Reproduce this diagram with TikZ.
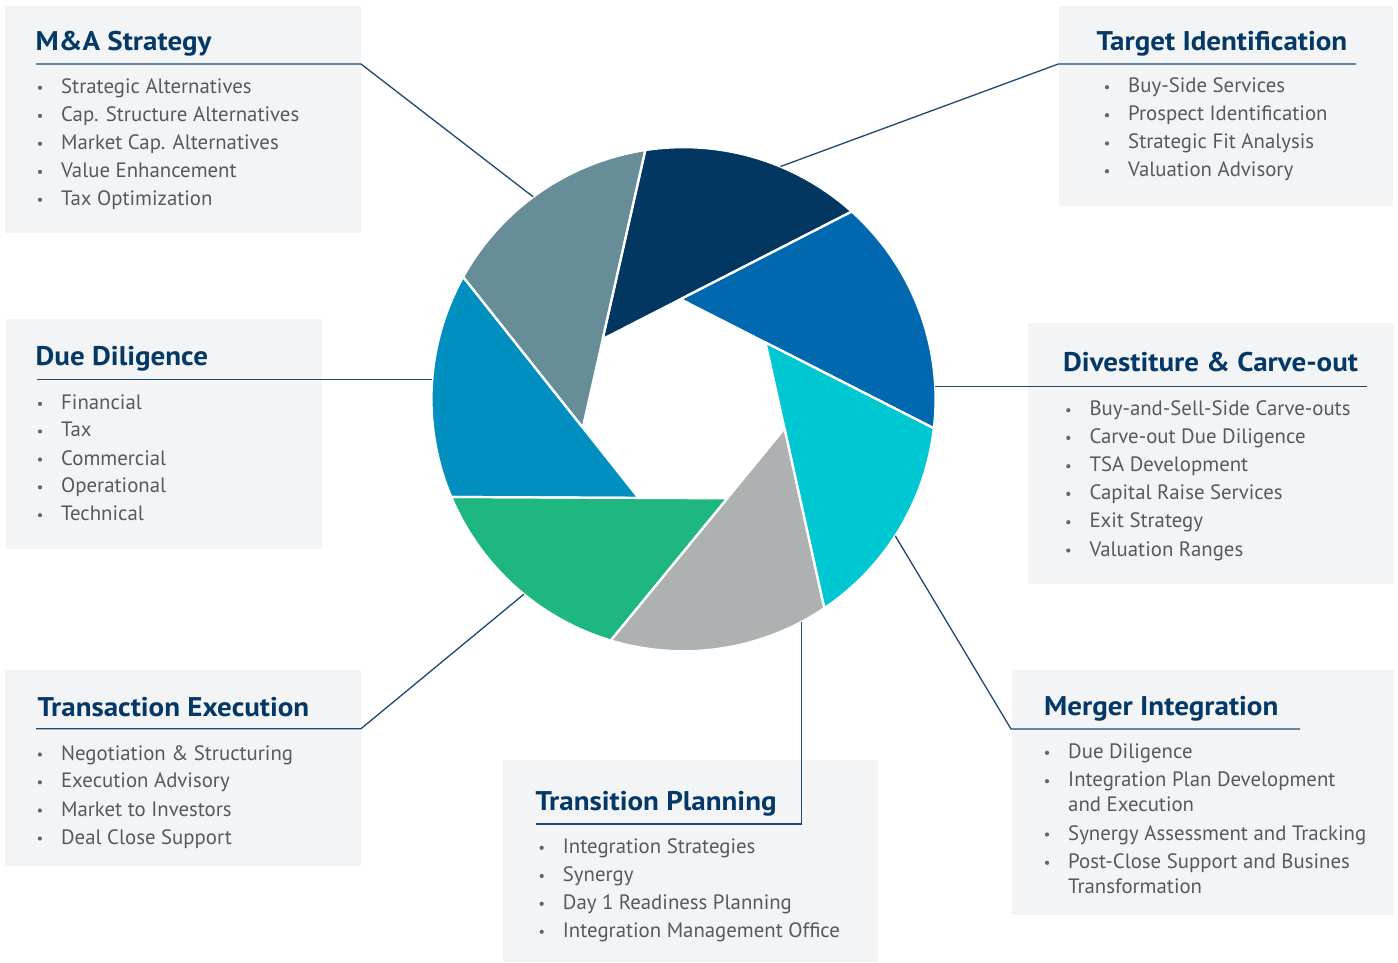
\documentclass[tikz,border=0pt]{standalone}
\usepackage{fontspec}
\setmainfont{PT Sans}
\newfontfamily\headfont{PT Sans}[FakeStretch=1.075]
\usetikzlibrary{calc}

\definecolor{panelbg}{RGB}{243,244,246}
\definecolor{headc}{RGB}{4,57,103}
\definecolor{bodyc}{RGB}{88,89,91}
\definecolor{dotc}{RGB}{100,101,103}
\definecolor{linec}{RGB}{28,72,115}
\definecolor{bladeNavy}{RGB}{2,55,98}
\definecolor{bladeBlue}{RGB}{0,104,175}
\definecolor{bladeCyan}{RGB}{0,200,211}
\definecolor{bladeGrey}{RGB}{174,177,177}
\definecolor{bladeGreen}{RGB}{30,183,128}
\definecolor{bladeSky}{RGB}{1,143,192}
\definecolor{bladeSlate}{RGB}{103,141,153}

% one bulleted line: node name, bullet x, baseline y, text
\newcommand{\listentry}[4]{%
  \fill[itemdot] (#2,#3-5.5) circle [radius=2.1];
  \node[itemtext] (#1) at (#2+21,#3) {#4};
}
% second line of a wrapped entry
\newcommand{\listcont}[4]{%
  \node[itemtext] (#1) at (#2+21,#3) {#4};
}

\begin{document}
\begin{tikzpicture}[x=1pt,y=-1pt,
  panel/.style={fill=panelbg},
  heading/.style={anchor=base west, inner sep=0pt, text=headc,
    font=\headfont\fontsize{27}{30}\selectfont\bfseries},
  itemtext/.style={anchor=base west, inner sep=0pt, text=bodyc,
    font=\fontsize{20.8}{24}\selectfont},
  itemdot/.style={fill=dotc},
  leader/.style={draw=linec, line width=1.3pt},
  bladeedge/.style={draw=white, line width=2.2pt, line join=round}
]
\useasboundingbox (0,0) rectangle (1398,962);

% ---------- panels ----------
\path[panel] (5,6) rectangle (361,233);
\path[panel] (1059,6) rectangle (1393,206);
\path[panel] (6,319) rectangle (322,549);
\path[panel] (1028,323) rectangle (1394,584);
\path[panel] (5,670) rectangle (361,866);
\path[panel] (1012,670) rectangle (1394,915);
\path[panel] (503,760) rectangle (878,962);

% ---------- aperture wheel ----------
\coordinate (C) at (683.5,399.2);
\foreach \i/\a in {0/-98.71,1/-48.14,2/6.62,3/56.03,4/106.78,5/157.18,6/209.03}
  \coordinate (p\i) at ($(C)+(\a:252)$);
% inner ends of the seven blade edges
\coordinate (t0) at (583.3,425);
\coordinate (t1) at (606,337.3);
\coordinate (t2) at (686.7,302.3);
\coordinate (t3) at (765.7,343.3);
\coordinate (t4) at (782.7,430.7);
\coordinate (t5) at (725,498.3);
\coordinate (t6) at (636.7,495.7);
% corners of the central opening
\coordinate (q0) at (intersection of p0--t0 and p1--t1);
\coordinate (q1) at (intersection of p1--t1 and p2--t2);
\coordinate (q2) at (intersection of p2--t2 and p3--t3);
\coordinate (q3) at (intersection of p3--t3 and p4--t4);
\coordinate (q4) at (intersection of p4--t4 and p5--t5);
\coordinate (q5) at (intersection of p5--t5 and p6--t6);
\coordinate (q6) at (intersection of p6--t6 and p0--t0);

\foreach \i/\a/\b/\c in {0/-98.71/-48.14/bladeNavy,1/-48.14/6.62/bladeBlue,
    2/6.62/56.03/bladeCyan,3/56.03/106.78/bladeGrey,4/106.78/157.18/bladeGreen,
    5/157.18/209.03/bladeSky,6/209.03/261.29/bladeSlate}
  \fill[fill=\c] (p\i) arc[start angle=\a, end angle=\b, radius=252] -- (q\i) -- cycle;
\foreach \i/\a/\b in {0/-98.71/-48.14,1/-48.14/6.62,2/6.62/56.03,3/56.03/106.78,
    4/106.78/157.18,5/157.18/209.03,6/209.03/261.29}
  \draw[bladeedge] (p\i) arc[start angle=\a, end angle=\b, radius=252] -- (q\i) -- cycle;

% ---------- leaders ----------
\coordinate (maL) at (36,64);    \coordinate (maK) at (361,64);
\coordinate (maE) at ($(C)+(-126.6:252)$);
\draw[leader] (maL) -- (maK) -- (maE);
\coordinate (tiL) at (1356,64);  \coordinate (tiK) at (1058.3,64);
\coordinate (tiE) at ($(C)+(-67.4:252)$);
\draw[leader] (tiL) -- (tiK) -- (tiE);
\coordinate (ddL) at (37,379.4); \coordinate (ddE) at (432.3,379.4);
\draw[leader] (ddL) -- (ddE);
\coordinate (dcL) at (1367,386.6); \coordinate (dcE) at (935.2,386.6);
\draw[leader] (dcL) -- (dcE);
\coordinate (teL) at (36,728.7); \coordinate (teK) at (361,728.7);
\coordinate (teE) at ($(C)+(129.3:252)$);
\draw[leader] (teL) -- (teK) -- (teE);
\coordinate (miL) at (1300,729); \coordinate (miK) at (1011,729);
\coordinate (miE) at ($(C)+(32.83:252)$);
\draw[leader] (miL) -- (miK) -- (miE);
\coordinate (tpL) at (536,824);  \coordinate (tpK) at (801.7,824);
\coordinate (tpE) at (801.7,621.8);
\draw[leader] (tpL) -- (tpK) -- (tpE);

% ---------- headings ----------
\node[heading] (maTitle) at (35.5,50) {M\&A Strategy};
\node[heading] (tiTitle) at (1096.5,50) {Target Identification};
\node[heading] (ddTitle) at (35.5,365) {Due Diligence};
\node[heading] (dcTitle) at (1063,371.7) {Divestiture \& Carve-out};
\node[heading] (teTitle) at (37.5,716) {Transaction Execution};
\node[heading] (miTitle) at (1044,715) {Merger Integration};
\node[heading] (tpTitle) at (535.5,810) {Transition Planning};

% ---------- lists ----------
\listentry{ma1}{40}{93.3}{Strategic Alternatives}
\listentry{ma2}{40}{121.3}{Cap. Structure Alternatives}
\listentry{ma3}{40}{149.3}{Market Cap. Alternatives}
\listentry{ma4}{40}{177.3}{Value Enhancement}
\listentry{ma5}{40}{205.3}{Tax Optimization}

\listentry{ti1}{1107}{92.7}{Buy-Side Services}
\listentry{ti2}{1107}{120.7}{Prospect Identification}
\listentry{ti3}{1107}{148.9}{Strategic Fit Analysis}
\listentry{ti4}{1107}{176.7}{Valuation Advisory}

\listentry{dd1}{40}{409.3}{Financial}
\listentry{dd2}{40}{436.9}{Tax}
\listentry{dd3}{40}{465}{Commercial}
\listentry{dd4}{40}{492.8}{Operational}
\listentry{dd5}{40}{520.7}{Technical}

\listentry{dc1}{1068.3}{415.7}{Buy-and-Sell-Side Carve-outs}
\listentry{dc2}{1068.3}{443.4}{Carve-out Due Diligence}
\listentry{dc3}{1068.3}{471.7}{TSA Development}
\listentry{dc4}{1068.3}{499.4}{Capital Raise Services}
\listentry{dc5}{1068.3}{527.7}{Exit Strategy}
\listentry{dc6}{1068.3}{556}{Valuation Ranges}

\listentry{te1}{39.9}{760}{Negotiation \& Structuring}
\listentry{te2}{39.9}{787.8}{Execution Advisory}
\listentry{te3}{39.9}{816}{Market to Investors}
\listentry{te4}{39.9}{844}{Deal Close Support}

\listentry{mi1}{1047}{758.3}{Due Diligence}
\listentry{mi2}{1047}{786.7}{Integration Plan Development}
\listcont{mi2b}{1047}{811.7}{and Execution}
\listentry{mi3}{1047}{840}{Synergy Assessment and Tracking}
\listentry{mi4}{1047}{868.3}{Post-Close Support and Busines}
\listcont{mi4b}{1047}{893.3}{Transformation}

\listentry{tp1}{541.7}{853.3}{Integration Strategies}
\listentry{tp2}{541.7}{881.5}{Synergy}
\listentry{tp3}{541.7}{909.3}{Day 1 Readiness Planning}
\listentry{tp4}{541.7}{937.3}{Integration Management Office}
\end{tikzpicture}
\end{document}
